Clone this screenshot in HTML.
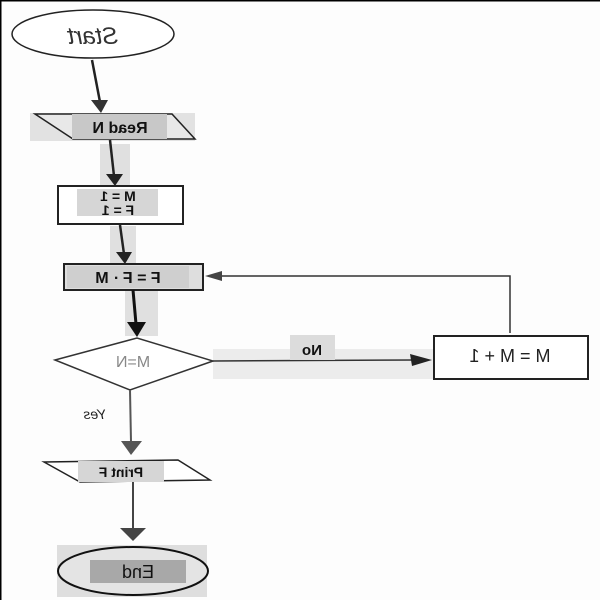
<!DOCTYPE html>
<html><head><meta charset="utf-8"><style>
html,body{margin:0;padding:0;background:#fdfdfd;}
svg{display:block;}
text{font-family:"Liberation Sans",sans-serif;}
</style></head><body>
<svg width="600" height="600" viewBox="0 0 600 600" xmlns="http://www.w3.org/2000/svg">
<rect width="600" height="600" fill="#fdfdfd"/>
<line x1="0" y1="0.5" x2="600" y2="0.5" stroke="#000" stroke-width="2"/>
<line x1="0.5" y1="0" x2="0.5" y2="600" stroke="#000" stroke-width="2"/>

<!-- Start -->
<ellipse cx="93" cy="34" rx="81" ry="24" fill="#fff" stroke="#222" stroke-width="1.5"/>
<text transform="translate(93,44) scale(-1,1)" text-anchor="middle" font-size="24" fill="#333" font-style="italic">Start</text>
<line x1="92" y1="60" x2="100" y2="102" stroke="#222" stroke-width="2.5"/>
<polygon points="91,100 108,100 101,113" fill="#333"/>

<!-- Read N -->
<rect x="30" y="113" width="165" height="28" fill="#e2e2e2"/>
<polygon points="35,114 172,114 195,139 73,139" fill="#e8e8e8" stroke="#222" stroke-width="1.5"/>
<rect x="72" y="114" width="95" height="25" fill="#c8c8c8"/>
<text transform="translate(120,133) scale(-1,1)" text-anchor="middle" font-size="16" font-weight="bold" fill="#111">Read N</text>

<rect x="100" y="144" width="30" height="42" fill="#e0e0e0"/>
<line x1="110" y1="140" x2="114" y2="176" stroke="#222" stroke-width="2.5"/>
<polygon points="106,174 123,174 115,186" fill="#222"/>

<!-- M=1 F=1 -->
<rect x="58" y="186" width="125" height="38" fill="#fff" stroke="#222" stroke-width="2"/>
<rect x="77" y="189" width="81" height="27" fill="#d6d6d6"/>
<text transform="translate(118,201) scale(-1,1)" text-anchor="middle" font-size="14" font-weight="bold" fill="#111">M = 1</text>
<text transform="translate(118,215) scale(-1,1)" text-anchor="middle" font-size="14" font-weight="bold" fill="#111">F = 1</text>

<rect x="110" y="226" width="26" height="37" fill="#e0e0e0"/>
<line x1="120" y1="225" x2="124" y2="254" stroke="#222" stroke-width="2.5"/>
<polygon points="116,252 132,252 125,264" fill="#222"/>

<!-- F=F*M -->
<rect x="64" y="264" width="139" height="26" fill="#dedede" stroke="#222" stroke-width="2"/>
<rect x="67" y="266" width="122" height="22" fill="#cfcfcf"/>
<text transform="translate(128,283) scale(-1,1)" text-anchor="middle" font-size="16" font-weight="bold" fill="#111">F = F · M</text>

<!-- feedback -->
<polyline points="510,333 510,276 222,276" fill="none" stroke="#333" stroke-width="1.5"/>
<polygon points="205,276 222,271 222,281" fill="#444"/>

<rect x="125" y="291" width="33" height="45" fill="#e0e0e0"/>
<line x1="133" y1="290" x2="136" y2="324" stroke="#111" stroke-width="3"/>
<polygon points="127,322 146,322 137,337" fill="#111"/>

<!-- diamond -->
<rect x="213" y="349" width="222" height="30" fill="#ececec"/>
<polygon points="55,360 137,338 213,361 130,390" fill="#fff" stroke="#333" stroke-width="1.5"/>
<text transform="translate(133,367) scale(-1,1)" text-anchor="middle" font-size="16" fill="#888">M=N</text>

<line x1="213" y1="361" x2="415" y2="360" stroke="#333" stroke-width="1.5"/>
<polygon points="432,360 410,354 412,366" fill="#222"/>
<rect x="290" y="335" width="45" height="25" fill="#dcdcdc"/>
<text transform="translate(312,355) scale(-1,1)" text-anchor="middle" font-size="15" font-weight="bold" fill="#111">No</text>

<!-- M=M+1 -->
<rect x="434" y="336" width="154" height="43" fill="#fff" stroke="#222" stroke-width="2"/>
<text transform="translate(510,362) scale(-1,1)" text-anchor="middle" font-size="18" fill="#222">M = M + 1</text>

<!-- yes -->
<line x1="130" y1="390" x2="131" y2="442" stroke="#555" stroke-width="2"/>
<polygon points="121,441 142,441 131,455" fill="#555"/>
<text transform="translate(95,419) scale(-1,1)" text-anchor="middle" font-size="14" font-style="italic" fill="#222">Yes</text>

<!-- Print F -->
<polygon points="44,462 178,460 210,480 80,482" fill="#fff" stroke="#222" stroke-width="1.5"/>
<rect x="78" y="461" width="86" height="21" fill="#d6d6d6"/>
<text transform="translate(121,477) scale(-1,1)" text-anchor="middle" font-size="14" font-weight="bold" fill="#111">Print F</text>

<line x1="133" y1="482" x2="133" y2="530" stroke="#444" stroke-width="2"/>
<polygon points="120,528 146,528 133,541" fill="#444"/>

<!-- End -->
<rect x="57" y="545" width="150" height="52" fill="#dedede"/>
<ellipse cx="133" cy="571" rx="75" ry="24" fill="#e4e4e4" stroke="#111" stroke-width="2"/>
<rect x="90" y="560" width="96" height="23" fill="#a8a8a8"/>
<text transform="translate(138,578) scale(-1,1)" text-anchor="middle" font-size="18" fill="#111">End</text>
</svg>
</body></html>
